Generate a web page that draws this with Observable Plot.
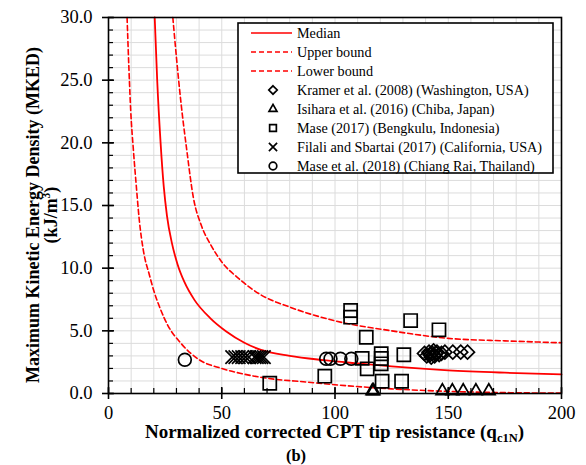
<!DOCTYPE html>
<html>
<head>
<meta charset="utf-8">
<script src="https://cdn.jsdelivr.net/npm/d3@7"></script>
<script src="https://cdn.jsdelivr.net/npm/@observablehq/plot@0.6"></script>
<style>
  html, body { margin: 0; padding: 0; background: #fff; }
  #chart svg { display: block; }
  #chart svg, #chart svg text { font-family: "Liberation Serif", "Times New Roman", serif; }
</style>
</head>
<body>
<div id="chart"></div>
<script>
// Boundary curves: MKED (kJ/m³) versus normalized tip resistance qc1N
const medianQ = [20.4, 21.5, 23.0, 24.4, 25.8, 28.0, 30.5, 33.5, 38, 45, 52, 60, 67, 80, 95, 110, 125, 150, 175, 200];
const medianE = [30.0, 25.0, 20.0, 16.5, 14.2, 12.0, 10.3, 8.9, 7.45, 6.0, 4.95, 4.05, 3.5, 3.0, 2.66, 2.4, 2.16, 1.85, 1.66, 1.52];

const upperQ = [28.4, 30, 32, 34.5, 37.5, 41, 45, 50, 58, 67, 80, 100, 125, 150, 175, 200];
const upperE = [30, 26.8, 23.2, 19.5, 15.6, 13.4, 11.9, 10.5, 9.1, 7.9, 6.9, 5.8, 5.0, 4.4, 4.2, 4.05];

const lowerQ = [8.2, 9.0, 9.8, 11.0, 12.3, 13.5, 15.5, 18, 20, 23, 26, 32, 40, 50, 58, 67, 88, 100, 125, 150, 175, 200];
const lowerE = [30, 26, 22.6, 19.4, 16.5, 14, 11.3, 9.5, 8.2, 6.7, 5.5, 4.0, 2.7, 2.0, 1.62, 1.30, 0.9, 0.7, 0.37, 0.17, 0.07, 0.03];

// Case histories
const kramerQ = [139.5, 140.5, 141.5, 142, 142.5, 143, 143.5, 144, 144.5, 145, 146, 147, 148.5, 152, 155.5, 158.5];
const kramerE = [3.2, 3.0, 3.3, 3.1, 2.9, 3.2, 3.4, 3.0, 3.2, 3.3, 3.1, 3.2, 3.3, 3.3, 3.3, 3.3];

const isiharaQ = [116.5, 117, 147.4, 151.8, 156.6, 162.2, 167.9];
const isiharaE = [0.2, 0.2, 0.2, 0.2, 0.2, 0.2, 0.2];

const maseQ = [106.9, 106.9, 133.4, 145.9, 113.8, 112.0, 114.2, 120.4, 120.4, 120.4, 130.4, 95.5, 71.2, 120.8, 129.4];
const maseE = [6.62, 6.09, 5.82, 5.08, 4.49, 2.80, 1.97, 3.17, 2.79, 2.37, 3.09, 1.38, 0.82, 0.98, 0.98];

const filaliQ = [54.6, 56, 57.5, 59, 60.5, 62, 64.5, 65.5, 66.5, 67.5, 68.6];
const filaliE = [2.9, 2.9, 2.9, 2.9, 2.9, 2.9, 2.9, 2.9, 2.9, 2.9, 2.9];

const mase18Q = [33.7, 96.1, 98.0, 102.4, 107.2];
const mase18E = [2.69, 2.77, 2.77, 2.77, 2.77];

// Axis ticks
const xMajor = [0, 50, 100, 150, 200];
const xMinor = d3.range(0, 201, 10);
const yMajor = [0, 5, 10, 15, 20, 25, 30];
const yMinor = d3.range(0, 31, 1);

const legendItems = [
  {label: "Median", kind: "line", dash: null},
  {label: "Upper bound", kind: "line", dash: "5,3"},
  {label: "Lower bound", kind: "line", dash: "5,3"},
  {label: "Kramer et al. (2008) (Washington, USA)", kind: "diamond2"},
  {label: "Isihara et al. (2016) (Chiba, Japan)", kind: "triangle2"},
  {label: "Mase (2017) (Bengkulu, Indonesia)", kind: "square"},
  {label: "Filali and Sbartai (2017) (California, USA)", kind: "times"},
  {label: "Mase et al. (2018) (Chiang Rai, Thailand)", kind: "circle"}
];

const zip = (xs, ys) => xs.map((q, i) => ({q, e: ys[i]}));
const median = zip(medianQ, medianE);
const upper = zip(upperQ, upperE);
const lower = zip(lowerQ, lowerE);

const W = 586, H = 465;
const mL = 108, mR = 25, mT = 17, mB = 72;
const innerW = W - mL - mR, innerH = H - mT - mB;
const font = "Liberation Serif, Times New Roman, serif";

const dotOpts = (sym, r) => ({x: "q", y: "e", symbol: () => sym, r, fill: "none", stroke: "black", strokeWidth: 1.7});

const plot = Plot.plot({
  width: W, height: H,
  marginLeft: mL, marginRight: mR, marginTop: mT, marginBottom: mB,
  style: {background: "#fff", color: "black", overflow: "visible"},
  x: {domain: [0, 200], axis: null},
  y: {domain: [0, 30], axis: null},
  symbol: {type: "identity"},
  marks: [
    Plot.gridX(xMinor, {stroke: "#dcdcdc", strokeOpacity: 1, strokeWidth: 1}),
    Plot.gridY(yMinor, {stroke: "#dcdcdc", strokeOpacity: 1, strokeWidth: 1}),
    Plot.line(lower, {x: "q", y: "e", stroke: "#ff0000", strokeWidth: 1.6, strokeDasharray: "5,3", curve: "monotone-x"}),
    Plot.line(upper, {x: "q", y: "e", stroke: "#ff0000", strokeWidth: 1.6, strokeDasharray: "5,3", curve: "monotone-x"}),
    Plot.line(median, {x: "q", y: "e", stroke: "#ff0000", strokeWidth: 1.8, curve: "monotone-x"}),
    Plot.dot(zip(mase18Q, mase18E), dotOpts("circle", 6.4)),
    Plot.dot(zip(maseQ, maseE), dotOpts("square", 7.4)),
    Plot.dot(zip(filaliQ, filaliE), dotOpts("times", 6.2)),
    Plot.dot(zip(kramerQ, kramerE), dotOpts("diamond2", 6.3)),
    Plot.dot(zip(isiharaQ, isiharaE), dotOpts("triangle2", 6.0)),
    Plot.frame({stroke: "black", strokeWidth: 1.6}),
    // minor ticks point inward, major ticks cross the axis
    Plot.tickX(xMinor, {x: d => d, insetTop: innerH - 5, stroke: "black", strokeWidth: 1.2}),
    Plot.tickX(xMajor, {x: d => d, insetTop: innerH - 6, insetBottom: -6, stroke: "black", strokeWidth: 1.6}),
    Plot.tickY(yMinor, {y: d => d, insetRight: innerW - 5, stroke: "black", strokeWidth: 1.2}),
    Plot.tickY(yMajor, {y: d => d, insetRight: innerW - 6, insetLeft: -6, stroke: "black", strokeWidth: 1.6}),
    Plot.axisX({ticks: xMajor, tickSize: 0, tickPadding: 12, fontSize: 18.5, fontFamily: font, label: null, tickFormat: d3.format("d")}),
    Plot.axisY({ticks: yMajor, tickSize: 0, tickPadding: 16, fontSize: 18.5, fontFamily: font, label: null, tickFormat: d3.format(".1f")})
  ]
});

document.getElementById("chart").appendChild(plot);

const svg = d3.select(plot);

// Axis titles
const xt = svg.append("text")
  .attr("x", mL + innerW / 2).attr("y", 438)
  .attr("text-anchor", "middle")
  .attr("font-family", font)
  .attr("font-weight", "bold").attr("font-size", 19)
  .attr("fill", "black");
xt.append("tspan").text("Normalized corrected CPT tip resistance (q");
xt.append("tspan").attr("font-size", 12.5).attr("dy", 4).text("c1N");
xt.append("tspan").attr("dy", -4).text(")");

svg.append("text")
  .attr("x", 296).attr("y", 461)
  .attr("text-anchor", "middle")
  .attr("font-family", font)
  .attr("font-weight", "bold").attr("font-size", 16.5)
  .attr("fill", "black")
  .text("(b)");

const yt = svg.append("g").attr("transform", `translate(39, ${mT + innerH / 2 + 10}) rotate(-90)`)
  .attr("font-family", font);
yt.append("text")
  .attr("text-anchor", "middle")
  .attr("font-weight", "bold").attr("font-size", 18)
  .attr("fill", "black")
  .text("Maximum Kinetic Energy Density (MKED)");
const yt2 = yt.append("text")
  .attr("y", 18)
  .attr("text-anchor", "middle")
  .attr("font-weight", "bold").attr("font-size", 18)
  .attr("fill", "black");
yt2.append("tspan").text("(kJ/m");
yt2.append("tspan").attr("font-size", 11.5).attr("dy", -7).text("3");
yt2.append("tspan").attr("dy", 7).text(")");

// Legend
const lg = svg.append("g").attr("font-size", 14.2).attr("text-anchor", "start").attr("font-family", font);
lg.append("rect")
  .attr("x", 238).attr("y", 23).attr("width", 315).attr("height", 150)
  .attr("fill", "white").attr("stroke", "black").attr("stroke-width", 1.6);
const symMap = {diamond2: d3.symbolDiamond2, triangle2: d3.symbolTriangle2, square: d3.symbolSquare, times: d3.symbolTimes, circle: d3.symbolCircle};
legendItems.forEach((it, i) => {
  const cy = 33 + i * 19;
  if (it.kind === "line") {
    lg.append("line").attr("x1", 251).attr("x2", 292).attr("y1", cy).attr("y2", cy)
      .attr("stroke", "#ff0000").attr("stroke-width", 1.6)
      .attr("stroke-dasharray", it.dash);
  } else {
    const r = 3.8;
    lg.append("path")
      .attr("transform", `translate(273,${cy})`)
      .attr("d", d3.symbol(symMap[it.kind], Math.PI * r * r)())
      .attr("fill", "none").attr("stroke", "black").attr("stroke-width", 1.7);
  }
  lg.append("text").attr("x", 297).attr("y", cy).attr("dy", "0.35em")
    .attr("fill", "black").text(it.label);
});
</script>
</body>
</html>
